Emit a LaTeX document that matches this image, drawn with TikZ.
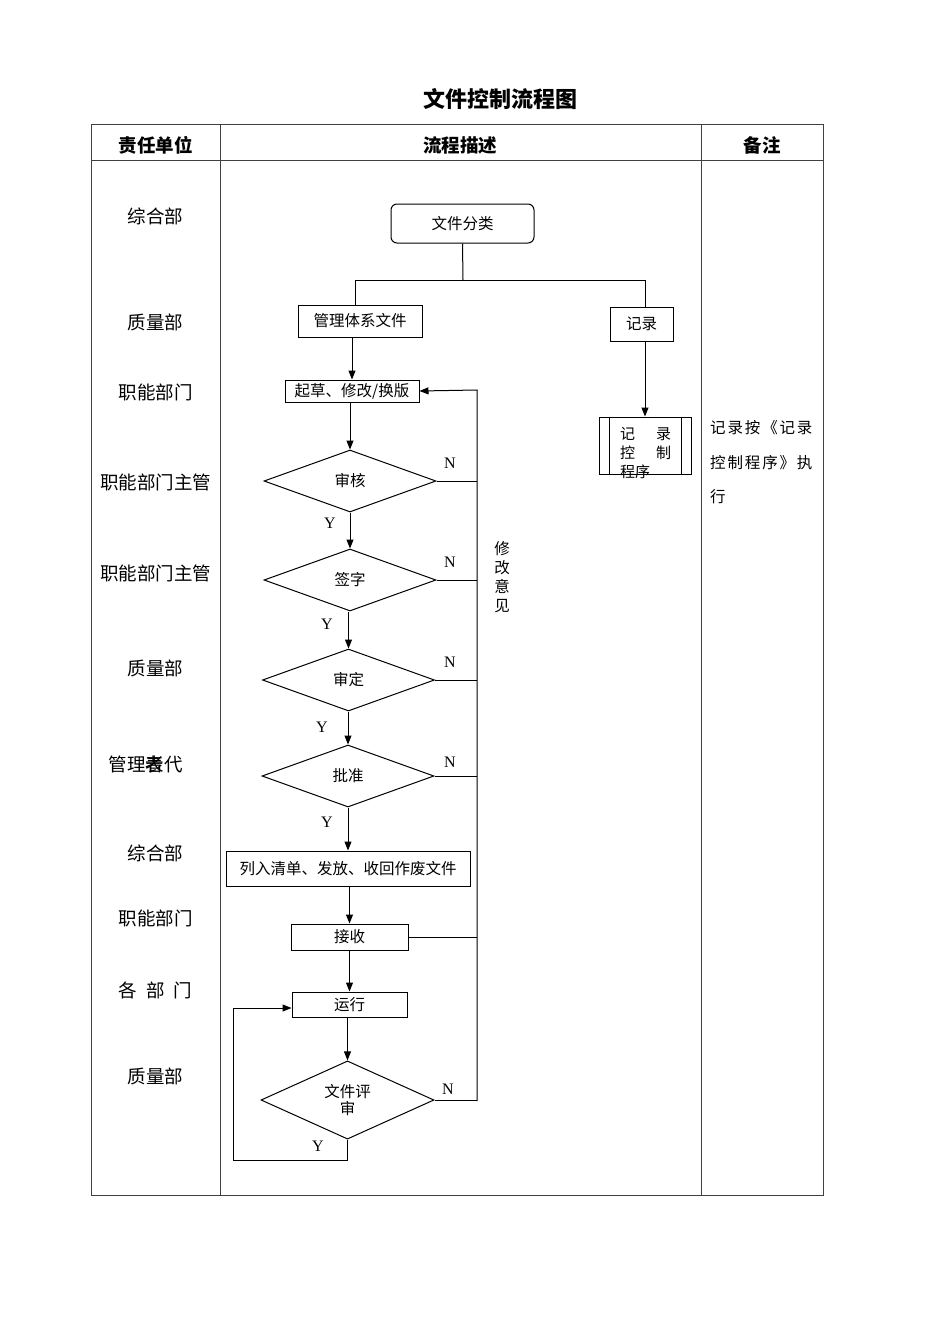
\documentclass[tikz,border=0pt]{standalone}
\usepackage{fontspec}
\usetikzlibrary{shapes.geometric,arrows.meta}
\setmainfont{Liberation Serif}
\newfontfamily\cjk{Noto Sans CJK SC}
\newfontfamily\cjkls[LetterSpace=12]{Noto Sans CJK SC}
\begin{document}
\begin{tikzpicture}[x=1pt,y=-1pt,
  ln/.style={line width=1pt,black},
  arr/.style={ln,-{Triangle[length=9pt,width=7pt]}},
  box/.style={draw,line width=1pt,inner sep=0pt,font=\cjk\fontsize{15.5}{18}\selectfont},
  dia/.style={draw,diamond,line width=1pt,inner sep=0pt,minimum width=172,minimum height=62,
    align=center,font=\cjk\fontsize{15.5}{18}\selectfont},
  unit/.style={font=\cjk\fontsize{18.5}{20}\selectfont,inner sep=0pt},
  head/.style={font=\cjk\bfseries\fontsize{18.5}{20}\selectfont,inner sep=0pt},
  yn/.style={font=\fontsize{16}{18}\selectfont,inner sep=0pt},
  tbl/.style={line width=1pt,black!75}]
\useasboundingbox[fill=white] (0,0) rectangle (950,1344);

% title
\node[font=\cjk\bfseries\fontsize{22}{24}\selectfont] (title) at (500,99) {文件控制流程图};

% table
\draw[tbl] (91,124) rectangle (823,1195);
\draw[tbl] (91,160) -- (823,160);
\draw[tbl] (220,124) -- (220,1195);
\draw[tbl] (701,124) -- (701,1195);
\node[head] (h1) at (155.5,145) {责任单位};
\node[head] (h2) at (460,145) {流程描述};
\node[head] (h3) at (762,145) {备注};

% responsibility column
\node[unit] (u1) at (155.5,216) {综合部};
\node[unit] (u2) at (155.5,322) {质量部};
\node[unit] (u3) at (155.5,392) {职能部门};
\node[unit] (u4) at (155.5,482) {职能部门主管};
\node[unit] (u5) at (155.5,573) {职能部门主管};
\node[unit] (u6) at (155.5,668) {质量部};
\node[unit] (u7) at (145.5,764) {管理者代};
\node[unit] (u7b) at (154.75,764) {表};
\node[unit] (u8) at (155.5,853) {综合部};
\node[unit] (u9) at (155.5,918) {职能部门};
\node[unit] (u10) at (155.5,990) {各\hspace{9pt}部\hspace{9pt}门};
\node[unit] (u11) at (155.5,1076) {质量部};

% flow nodes
\node[box,rounded corners=6pt,minimum width=143,minimum height=39] (cls) at (462.5,223.5) {文件分类};
\node[box,minimum width=124,minimum height=32] (mgmt) at (360,321) {管理体系文件};
\node[box,minimum width=63,minimum height=34] (rec) at (641.5,324) {记录};
\node[box,minimum width=134,minimum height=22] (draft) at (352,391) {起草、修改/换版};
\node[box,minimum width=92,minimum height=57] (rcp) at (645,445.5) {};
\draw[ln] (609,417) -- (609,474);
\draw[ln] (681,417) -- (681,474);
\node[anchor=west,align=left,inner sep=0pt,font=\cjk\fontsize{15}{19}\selectfont] (rcpt) at (620,453)
  {记\hspace{21pt}录\\控\hspace{21pt}制\\程序};

\node[dia] (d1) at (350,481) {审核};
\node[dia] (d2) at (350,580) {签字};
\node[dia] (d3) at (348.5,680) {审定};
\node[dia] (d4) at (348,776) {批准};
\node[box,minimum width=244,minimum height=35] (list) at (348,868.5) {列入清单、发放、收回作废文件};
\node[box,minimum width=117,minimum height=26] (recv) at (349.5,937) {接收};
\node[box,minimum width=115,minimum height=25] (run) at (349.5,1004.5) {运行};
\node[dia,minimum width=173,minimum height=64] (rev) at (347.5,1100) {\raisebox{-8pt}{\shortstack{文件评\\审}}};

% connectors
\coordinate (split) at (463,280);
\coordinate (sl) at (355,280);
\coordinate (sr) at (645,280);
\draw[ln] (cls.south) -- (split);
\draw[ln] (sl) -- (sr);
\draw[ln] (sl) -- (sl |- mgmt.north);
\draw[ln] (sr) -- (sr |- rec.north);
\draw[arr] (mgmt.south -| draft.north) -- (draft.north);
\draw[arr] (rec.south -| rcp.north) -- (rcp.north);
\draw[arr] (draft.south -| d1.north) -- (d1.north);
\draw[arr] (d1.south) -- (d2.north);
\draw[arr] (d2.south -| d3.north) -- (d3.north);
\draw[arr] (d3.south -| d4.north) -- (d4.north);
\draw[arr] (d4.south) -- (list.north -| d4.south);
\draw[arr] (list.south -| recv.north) -- (recv.north);
\draw[arr] (recv.south -| run.north) -- (run.north);
\draw[arr] (run.south -| rev.north) -- (rev.north);

\coordinate (fbTop) at (477,390);
\coordinate (fbBot) at (477,1101);
\draw[arr] (fbBot) -- (fbTop) -- (draft.east);
\draw[ln] (d1.east) -- (d1.east -| fbTop);
\draw[ln] (d2.east) -- (d2.east -| fbTop);
\draw[ln] (d3.east) -- (d3.east -| fbTop);
\draw[ln] (d4.east) -- (d4.east -| fbTop);
\draw[ln] (recv.east) -- (recv.east -| fbTop);
\draw[ln] (rev.east) -- (rev.east -| fbTop);

\coordinate (lp) at (233,1160);
\coordinate (lpIn) at (233,1008);
\draw[arr] (rev.south) |- (lp) -- (lpIn) -- (lpIn -| run.west);

% labels
\node[yn] (n1) at (450,463) {N};
\node[yn] (n2) at (450,562) {N};
\node[yn] (n3) at (450,662) {N};
\node[yn] (n4) at (450,762) {N};
\node[yn] (n5) at (448,1089) {N};
\node[yn] (y1) at (330,523) {Y};
\node[yn] (y2) at (327,624) {Y};
\node[yn] (y3) at (322,727) {Y};
\node[yn] (y4) at (327,822) {Y};
\node[yn] (y5) at (318,1146) {Y};
\node[align=center,inner sep=0pt,font=\cjk\fontsize{15.5}{19}\selectfont] (fb) at (502,577) {修\\改\\意\\见};

% remarks
\node[anchor=west,inner sep=0pt,font=\cjkls\fontsize{15.5}{18}\selectfont] (r1) at (710,428) {记录按《记录};
\node[anchor=west,inner sep=0pt,font=\cjkls\fontsize{15.5}{18}\selectfont] (r2) at (710,463) {控制程序》执};
\node[anchor=west,inner sep=0pt,font=\cjkls\fontsize{15.5}{18}\selectfont] (r3) at (710,497) {行};
\end{tikzpicture}
\end{document}
